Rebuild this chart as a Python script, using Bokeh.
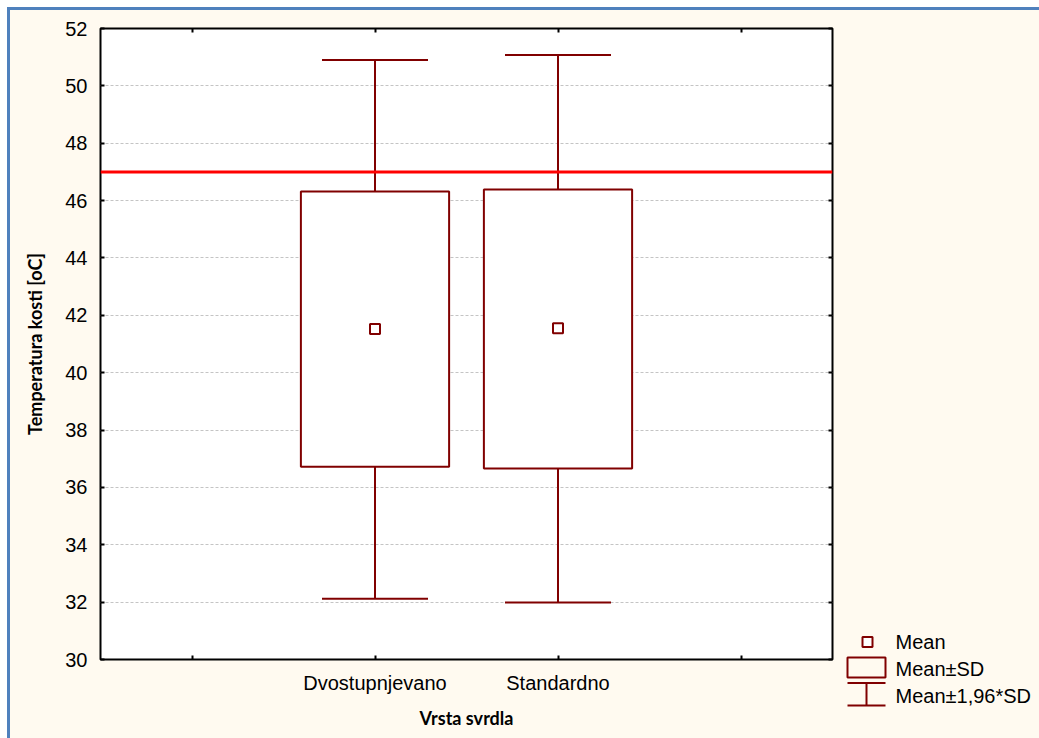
from bokeh.plotting import figure
from bokeh.layouts import row, column
from bokeh.models import (Range1d, ColumnDataSource, Whisker, TeeHead, Span,
                          FixedTicker, LinearAxis)
from bokeh.core.properties import value
from bokeh.embed import file_html
from bokeh.resources import INLINE

# ---- data ----
groups = ["Dvostupnjevano", "Standardno"]
mean_vals = [41.52, 41.55]
sd_low = [36.72, 36.66]
sd_high = [46.32, 46.39]
ci_low = [32.12, 31.99]
ci_high = [50.90, 51.08]
threshold = 47.0
y_ticks = [30, 32, 34, 36, 38, 40, 42, 44, 46, 48, 50, 52]
x_slots = [0, 1, 2, 3]          # group slots on the category axis (two empty outer slots)
legend_labels = ["Mean", "Mean\u00b1SD", "Mean\u00b11,96*SD"]
x_title = "Vrsta svrdla"
y_title = "Temperatura kosti [oC]"

x_pos = [x_slots[i + 1] for i in range(len(groups))]
empty_slots = [s for s in x_slots if s not in x_pos]

MAROON = "#800000"
BG = "#FFFAF0"
TICK_FONT = "Liberation Sans"

# ---------------- main plot ----------------
p = figure(x_range=Range1d(x_slots[0] - 0.5, x_slots[-1] + 0.5), y_range=Range1d(30, 52),
           frame_width=732, frame_height=631,
           min_border_left=90, min_border_right=8, min_border_top=18, min_border_bottom=79,
           output_backend="svg", toolbar_location=None)
p.background_fill_color = "white"
p.border_fill_color = BG
p.outline_line_color = "black"
p.outline_line_width = 2

p.xgrid.visible = False
p.ygrid.ticker = FixedTicker(ticks=y_ticks)
p.ygrid.grid_line_color = "#C4C4C4"
p.ygrid.grid_line_dash = "3 2"
p.ygrid.grid_line_width = 1

def style_axis(ax):
    ax.axis_line_color = None
    ax.major_tick_in = 4
    ax.major_tick_out = 0
    ax.minor_tick_in = 4
    ax.minor_tick_out = 0
    ax.major_tick_line_color = "black"
    ax.major_tick_line_width = 2
    ax.minor_tick_line_color = "black"
    ax.minor_tick_line_width = 2
    ax.major_label_text_font = TICK_FONT
    ax.major_label_text_color = "black"
    ax.major_label_text_font_size = "20px"
    ax.axis_label_text_font = "Lato"
    ax.axis_label_text_font_style = "bold"
    ax.axis_label_text_font_size = "18px"
    ax.axis_label_text_color = "black"

yax = p.yaxis[0]
yax.ticker = FixedTicker(ticks=y_ticks)
style_axis(yax)
yax.minor_tick_line_color = None
yax.major_label_standoff = 13
yax.axis_label = y_title
yax.axis_label_standoff = 16

xax = p.xaxis[0]
xax.ticker = FixedTicker(ticks=x_pos, minor_ticks=empty_slots)
xax.major_label_overrides = {xp: g for xp, g in zip(x_pos, groups)}
style_axis(xax)
xax.major_label_standoff = 12
xax.axis_label = x_title
xax.axis_label_standoff = 10

top_ax = LinearAxis(ticker=FixedTicker(ticks=[], minor_ticks=x_slots))
style_axis(top_ax)
p.add_layout(top_ax, "above")
right_ax = LinearAxis(ticker=FixedTicker(ticks=[], minor_ticks=y_ticks))
style_axis(right_ax)
p.add_layout(right_ax, "right")

src = ColumnDataSource(dict(x=x_pos, m=mean_vals, sdl=sd_low, sdh=sd_high,
                            lo=ci_low, hi=ci_high))

whisk = Whisker(base="x", lower="lo", upper="hi", source=src, dimension="height",
                line_color=MAROON, line_width=2, level="underlay",
                upper_head=TeeHead(size=106, line_color=MAROON, line_width=2),
                lower_head=TeeHead(size=106, line_color=MAROON, line_width=2))
p.add_layout(whisk)

p.vbar(x="x", width=0.81, bottom="sdl", top="sdh", source=src,
       fill_color="white", line_color=MAROON, line_width=2)
p.scatter(x="x", y="m", source=src, marker="square", size=10,
          fill_color="white", line_color=MAROON, line_width=2)

p.add_layout(Span(location=threshold, dimension="width", line_color="#FF0000", line_width=3))

# ---------------- legend panel (pixel layout coordinates) ----------------
lg = figure(x_range=Range1d(840, 1039), y_range=Range1d(738, 10),
            width=199, height=728, min_border=0,
            output_backend="svg", toolbar_location=None)
lg.axis.visible = False
lg.grid.visible = False
lg.outline_line_color = None
lg.background_fill_color = BG
lg.border_fill_color = BG

lg.scatter(x=[867], y=[641.5], marker="square", size=10,
           fill_color="white", line_color=MAROON, line_width=2)
lg.quad(left=[847], right=[885], top=[657], bottom=[677],
        fill_alpha=0, line_color=MAROON, line_width=2)
lg.segment(x0=[847, 847, 866], y0=[682.5, 705, 682.5], x1=[885, 885, 866], y1=[682.5, 705, 705],
           line_color=MAROON, line_width=2)
lg.text(x=[895] * len(legend_labels), y=[641.5, 668.5, 695.5], text=legend_labels,
        text_baseline="middle", text_align="left", text_color="black",
        text_font=value(TICK_FONT), text_font_size="20px")

layout = row(p, column(lg), styles={"margin-left": "7px", "margin-top": "7px",
                                    "border-left": "3px solid #4F81BD",
                                    "border-top": "3px solid #4F81BD",
                                    "background-color": BG})

open("out.html", "w").write(file_html(layout, INLINE))
